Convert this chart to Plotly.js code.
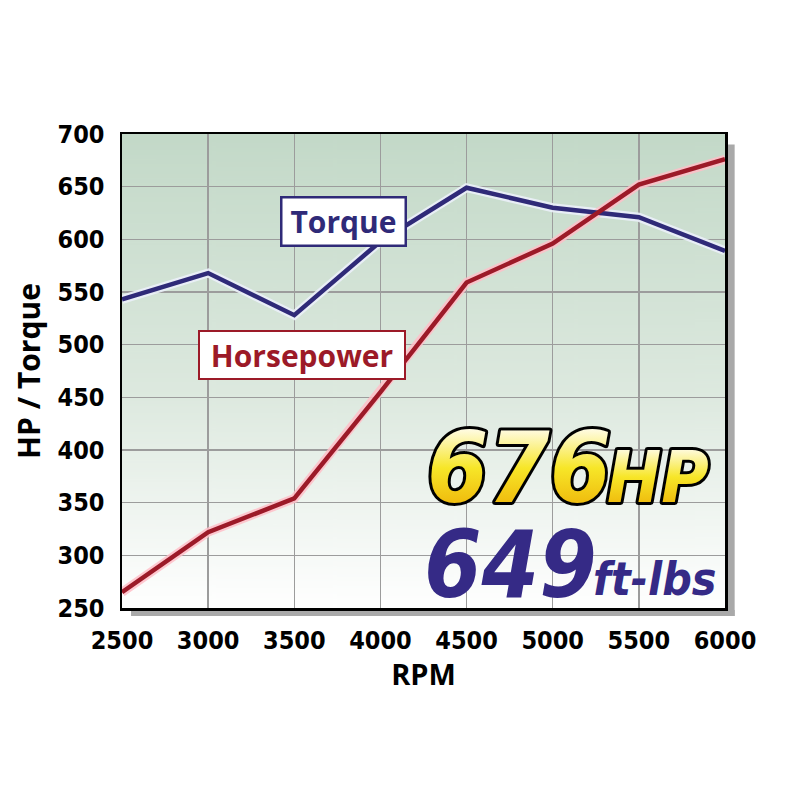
<!DOCTYPE html>
<html>
<head>
<meta charset="utf-8">
<script src="https://cdn.plot.ly/plotly-3.0.1.min.js"></script>
<style>
html,body{margin:0;padding:0;background:#fff;}
#chart{width:800px;height:800px;}
g.annotation[data-index="2"] text, g.annotation[data-index="3"] text{stroke:#000;stroke-width:6px;paint-order:stroke;stroke-linejoin:round;fill:url(#ygrad) !important;}
</style>
</head>
<body>
<svg width="0" height="0" style="position:absolute">
  <defs>
    <linearGradient id="ygrad" x1="0" y1="0" x2="0" y2="1">
      <stop offset="0.15" stop-color="#fffce8"/>
      <stop offset="0.5" stop-color="#f7e628"/>
      <stop offset="0.78" stop-color="#f0c010"/>
    </linearGradient>
  </defs>
</svg>
<div id="chart"></div>
<script>
const rpm = [2500, 3000, 3500, 4000, 4500, 5000, 5500, 6000];
const torque = [543, 568, 528, 598, 649, 630, 621, 589];
const horsepower = [265, 322, 354, 455, 559, 596, 652, 676];
const xTicks = [2500, 3000, 3500, 4000, 4500, 5000, 5500, 6000];
const yTicks = [250, 300, 350, 400, 450, 500, 550, 600, 650, 700];

const cv = document.createElement('canvas');
cv.width = 10; cv.height = 400;
const ctx = cv.getContext('2d');
const g = ctx.createLinearGradient(0, 0, 0, 400);
g.addColorStop(0, '#c3d9c8');
g.addColorStop(0.55, '#dde9df');
g.addColorStop(1, '#ffffff');
ctx.fillStyle = g; ctx.fillRect(0, 0, 10, 400);
const bgURL = cv.toDataURL();

const navy = '#2f2a78';
const red = '#9c1a28';
const COND = 'DejaVu Sans Condensed';

const traces = [
  {x: rpm, y: torque, mode: 'lines', line: {color: 'rgba(235,240,250,0.9)', width: 9}, hoverinfo: 'skip', showlegend: false},
  {x: rpm, y: horsepower, mode: 'lines', line: {color: 'rgba(255,190,200,0.85)', width: 9}, hoverinfo: 'skip', showlegend: false},
  {x: rpm, y: torque, mode: 'lines', name: 'Torque', line: {color: navy, width: 4.5}, showlegend: false},
  {x: rpm, y: horsepower, mode: 'lines', name: 'Horsepower', line: {color: red, width: 4.5}, showlegend: false}
];

const tickFont = {family: COND, size: 25, color: '#000', weight: 'bold'};

const layout = {
  width: 800, height: 800,
  margin: {l: 122, r: 75, t: 134, b: 192},
  paper_bgcolor: '#ffffff',
  plot_bgcolor: 'rgba(0,0,0,0)',
  showlegend: false,
  xaxis: {
    range: [2500, 6000], tickvals: xTicks, ticktext: xTicks.map(String),
    tickfont: tickFont, ticks: '', ticklabelstandoff: 8,
    showgrid: true, gridcolor: '#9c9c9c', gridwidth: 1.5,
    showline: true, linecolor: '#000', linewidth: 2.5, mirror: true, zeroline: false,
    title: {text: 'RPM', font: {family: 'Open Sans', size: 29, color: '#000', weight: 'bold'}, standoff: 4}
  },
  yaxis: {
    range: [250, 700], tickvals: yTicks, ticktext: yTicks.map(String),
    tickfont: tickFont, ticks: '', ticklabelstandoff: 10,
    showgrid: true, gridcolor: '#9c9c9c', gridwidth: 1.5,
    showline: true, linecolor: '#000', linewidth: 2.5, mirror: true, zeroline: false,
    title: {text: 'HP / Torque', font: {family: 'Open Sans', size: 30, color: '#000', weight: 'bold'}, standoff: 8}
  },
  images: [{source: bgURL, xref: 'paper', yref: 'paper', x: 0, y: 1, sizex: 1, sizey: 1, sizing: 'stretch', layer: 'below'}],
  shapes: [
    {type: 'rect', xref: 'paper', yref: 'paper', x0: 1.003, x1: 1.016, y0: -0.017, y1: 0.978, fillcolor: '#a9a9a9', line: {width: 0}, layer: 'below'},
    {type: 'rect', xref: 'paper', yref: 'paper', x0: 0.015, x1: 1.016, y0: -0.017, y1: -0.004, fillcolor: '#a9a9a9', line: {width: 0}, layer: 'below'}
  ],
  annotations: [
    {x: 3788, y: 617, xref: 'x', yref: 'y', text: 'Torque', showarrow: false,
     font: {family: 'Open Sans', size: 30, color: navy, weight: 'bold'},
     bgcolor: '#ffffff', bordercolor: navy, borderwidth: 2.5, borderpad: 2, width: 118, height: 42},
    {x: 3545, y: 490, xref: 'x', yref: 'y', text: 'Horsepower', showarrow: false,
     font: {family: 'Open Sans', size: 30, color: red, weight: 'bold'},
     bgcolor: '#ffffff', bordercolor: red, borderwidth: 2, borderpad: 2, width: 200, height: 42},
    {x: 5350, y: 439, xref: 'x', yref: 'y', xanchor: 'right', yanchor: 'top', text: '<i>676</i>', showarrow: false,
     font: {family: COND, size: 98, color: '#f4e21a', weight: 'bold'}},
    {x: 5303, y: 416, xref: 'x', yref: 'y', xanchor: 'left', yanchor: 'top', text: '<i>HP</i>', showarrow: false,
     font: {family: COND, size: 72, color: '#f4e21a', weight: 'bold'}},
    {x: 5268, y: 343, xref: 'x', yref: 'y', xanchor: 'right', yanchor: 'top', text: '<i>649</i>', showarrow: false,
     font: {family: COND, size: 92, color: '#352a86', weight: 'bold'}},
    {x: 5222, y: 305, xref: 'x', yref: 'y', xanchor: 'left', yanchor: 'top', text: '<i>ft-lbs</i>', showarrow: false,
     font: {family: COND, size: 46, color: '#352a86', weight: 'bold'}}
  ]
};

Plotly.newPlot('chart', traces, layout, {displayModeBar: false, staticPlot: true});
</script>
</body>
</html>
